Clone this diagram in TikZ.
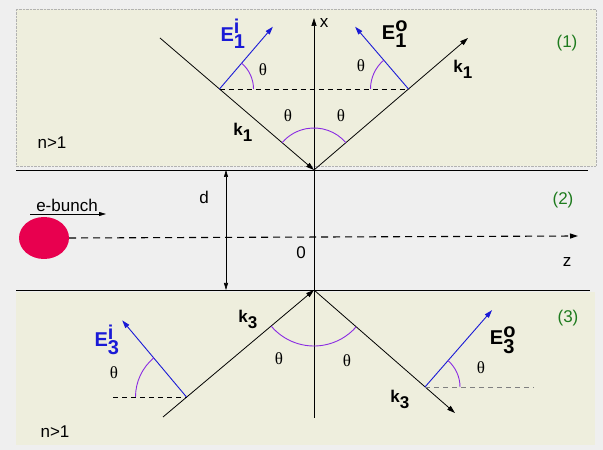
\documentclass[tikz,border=0pt]{standalone}
\usepackage{fontspec}
\setmainfont{Liberation Sans}
\newfontfamily\thetafont{Liberation Serif}
\usetikzlibrary{arrows.meta,shapes.geometric}
\definecolor{bgcol}{HTML}{EFEFEF}
\definecolor{beige}{HTML}{EEEEDD}
\definecolor{eblue}{HTML}{1A1AD6}
\definecolor{arcpurple}{HTML}{8A2BE2}
\definecolor{regiongreen}{HTML}{1E7B1E}
\definecolor{bunchred}{HTML}{E8004F}
\tikzset{
  tip/.style={-{Triangle[length=8pt,width=5pt]}},
  ray/.style={black, line width=0.8pt},
  efield/.style={eblue, line width=0.9pt, -{Triangle[length=8pt,width=5pt]}},
  anglearc/.style={arcpurple, line width=0.9pt},
  guide/.style={black, dash pattern=on 5pt off 4pt, line width=0.8pt},
  thetalbl/.style={inner sep=0pt, font=\thetafont\fontsize{17}{17}\selectfont},
  klbl/.style={inner sep=0pt, font=\bfseries\fontsize{17}{17}\selectfont},
  elbl/.style={inner sep=0pt, font=\bfseries\fontsize{20}{20}\selectfont},
  reglbl/.style={inner sep=0pt, text=regiongreen, font=\fontsize{17}{17}\selectfont},
  plainlbl/.style={inner sep=0pt, font=\fontsize{17}{17}\selectfont},
}
\begin{document}
\begin{tikzpicture}[x=1pt,y=1pt]
\useasboundingbox (0,0) rectangle (603,450);
% backgrounds
\fill[bgcol] (0,0) rectangle (603,450);
\fill[beige] (16,284) rectangle (596,441);
\draw[gray!60, densely dotted] (16,284) rectangle (596,441);
\fill[beige] (16,5) rectangle (595,158);
% interfaces
\coordinate (Ot) at (314,280);
\coordinate (Ob) at (314,160);
\draw[line width=0.9pt] (16,280) -- (588,280);
\draw[line width=0.9pt] (16,160) -- (590,160);
% x axis
\coordinate (xbot) at (314,32);
\coordinate (xtop) at (314,432);
\draw[line width=0.6pt, tip] (xbot) -- (xtop);
\node[plainlbl] (xl) at (324,427) {x};
% region 1
\coordinate (A) at (160,412);
\coordinate (B) at (468,412);
\coordinate (P1) at (219.5,361);
\coordinate (P2) at (408.5,361);
\draw[ray, tip] (A) -- (Ot);
\draw[ray, tip] (Ot) -- (B);
\draw[guide] (P1) -- (P2);
\draw[efield] (P1) -- ++(49.4:82) coordinate (E1iend);
\draw[efield] (P2) -- ++(130.6:82) coordinate (E1oend);
\draw[anglearc] (P1) ++(0:34) arc[start angle=0, end angle=49.4, radius=34];
\draw[anglearc] (P2) ++(180:38) arc[start angle=180, end angle=130.6, radius=38];
\draw[anglearc] (Ot) ++(40.6:42) arc[start angle=40.6, end angle=139.4, radius=42];
\node[thetalbl] (th1) at (263,380) {θ};
\node[thetalbl] (th2) at (361,384) {θ};
\node[thetalbl] (th3) at (288,334) {θ};
\node[thetalbl] (th4) at (341,334) {θ};
\node[klbl] (k1a) at (243,318) {k$_{\textbf{1}}$};
\node[klbl] (k1b) at (463,381) {k$_{\textbf{1}}$};
\node[elbl, text=eblue] (E1il) at (233,416) {E$^{\textbf{i}}_{\textbf{1}}$};
\node[elbl] (E1ol) at (395,416) {E$^{\textbf{o}}_{\textbf{1}}$};
\node[reglbl] (r1) at (567,407) {(1)};
\node[plainlbl] (n1) at (52,307) {n>1};
% region 2
\coordinate (dtop) at (226,280);
\coordinate (dbot) at (226,160);
\draw[line width=0.6pt, {Triangle[length=7pt,width=4pt]}-{Triangle[length=7pt,width=4pt]}] (dtop) -- (dbot);
\node[plainlbl] (dl) at (204,253) {d};
\node[fill=bunchred, ellipse, minimum width=50pt, minimum height=42pt, inner sep=0pt] (bunch) at (44,212) {};
\coordinate (zend) at (578,214);
\draw[black, dash pattern=on 7pt off 5pt, line width=1.1pt, tip] (bunch.east) -- (zend);
\node[plainlbl] (eb) at (67,245) {e-bunch};
\coordinate (eba) at (30,236);
\coordinate (ebb) at (106,236);
\draw[line width=0.8pt, -{Triangle[length=7pt,width=4pt]}] (eba) -- (ebb);
\node[plainlbl] (zero) at (301,197) {0};
\node[plainlbl] (zl) at (567,188) {z};
\node[reglbl] (r2) at (563,250) {(2)};
% region 3
\coordinate (C) at (163,33);
\coordinate (D) at (455,37);
\coordinate (Q1) at (186.5,53);
\coordinate (Q2) at (425,63);
\coordinate (g1) at (113,53);
\coordinate (g2) at (534,63);
\draw[ray, tip] (C) -- (Ob);
\draw[ray, tip] (Ob) -- (D);
\draw[guide] (g1) -- (Q1);
\draw[guide, gray] (Q2) -- (g2);
\draw[efield] (Q1) -- ++(130:100) coordinate (E3iend);
\draw[efield] (Q2) -- ++(48.9:102) coordinate (E3oend);
\draw[anglearc] (Q1) ++(180:51) arc[start angle=180, end angle=130, radius=51];
\draw[anglearc] (Q2) ++(0:35) arc[start angle=0, end angle=48.9, radius=35];
\draw[anglearc] (Ob) ++(220:56) arc[start angle=220, end angle=318.9, radius=56];
\node[thetalbl] (th5) at (114,77) {θ};
\node[thetalbl] (th6) at (279,91) {θ};
\node[thetalbl] (th7) at (347,89) {θ};
\node[thetalbl] (th8) at (481,82) {θ};
\node[klbl] (k3a) at (248,131) {k$_{\textbf{3}}$};
\node[klbl] (k3b) at (400,51) {k$_{\textbf{3}}$};
\node[elbl, text=eblue] (E3il) at (107,110) {E$^{\textbf{i}}_{\textbf{3}}$};
\node[elbl] (E3ol) at (503,110) {E$^{\textbf{o}}_{\textbf{3}}$};
\node[reglbl] (r3) at (568,132) {(3)};
\node[plainlbl] (n3) at (55,18) {n>1};
\end{tikzpicture}
\end{document}
